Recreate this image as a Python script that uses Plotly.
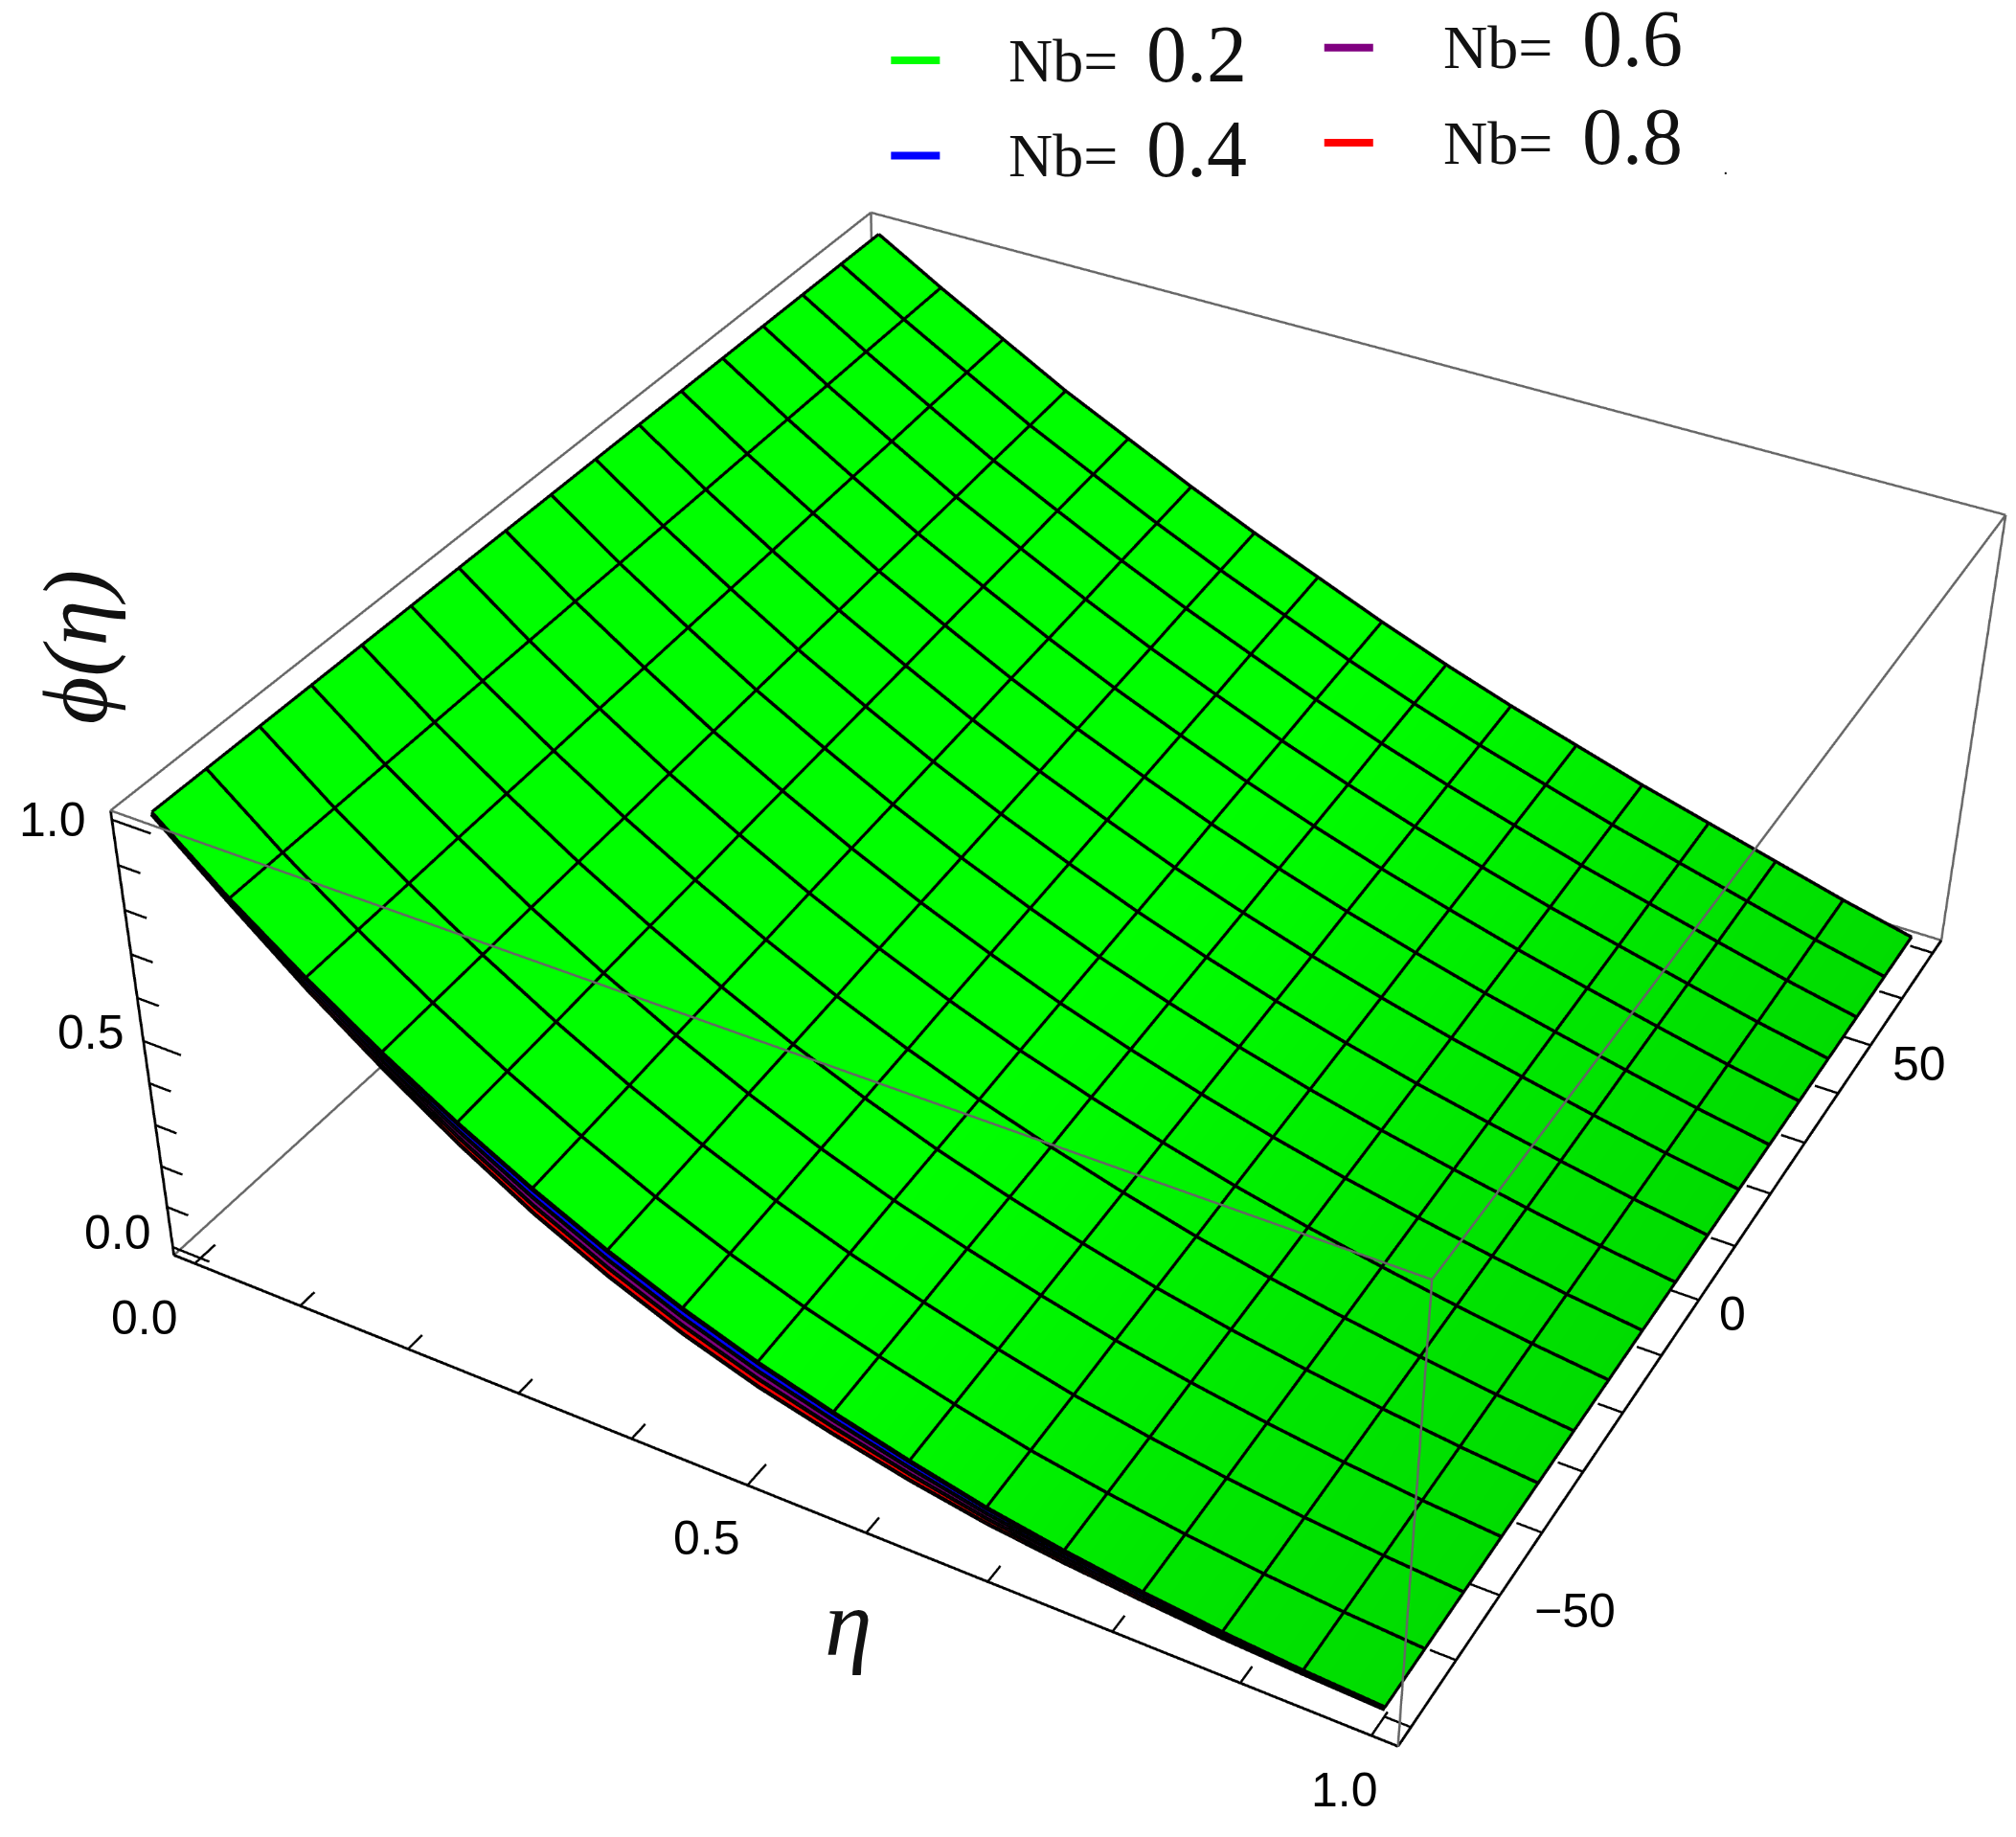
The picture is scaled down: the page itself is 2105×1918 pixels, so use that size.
import numpy as np
import plotly.graph_objects as go

eta = [0,.0625,.125,.1875,.25,.3125,.375,.4375,.5,.5625,.625,.6875,.75,.8125,.875,.9375,1]
y_vals = [-70,-61.25,-52.5,-43.75,-35,-26.25,-17.5,-8.75,0,8.75,17.5,26.25,35,43.75,52.5,61.25,70]
phi_02 = [1.00,.865,.745,.635,.535,.445,.365,.295,.235,.185,.14,.10,.07,.045,.025,.01,0]
phi_04 = [.999,.862,.737,.623,.519,.426,.345,.275,.216,.168,.125,.088,.061,.039,.021,.008,-.001]
phi_06 = [.998,.859,.729,.611,.503,.407,.325,.255,.197,.151,.11,.076,.052,.033,.017,.006,-.002]
phi_08 = [.997,.856,.721,.599,.487,.388,.305,.235,.178,.134,.095,.064,.043,.027,.013,.004,-.003]
# rise of the surface across y, read from its far edge (y = 70) against its near edge (y = -70)
phi_far_edge = [1.00,.91,.825,.74,.665,.59,.52,.455,.39,.33,.275,.225,.175,.13,.085,.04,0]
y_weight = [0,.06,.12,.19,.25,.31,.38,.44,.5,.56,.62,.69,.75,.81,.88,.94,1]
green_shade = [1,1,1,1,1,1,1,1,1,.9,.75,.6,.45,.3,.2,.1,0]
nb_labels = ["0.2","0.4","0.6","0.8"]
phi_ticks = [0,.1,.2,.3,.4,.5,.6,.7,.8,.9,1]
eta_ticks = [0,.1,.2,.3,.4,.5,.6,.7,.8,.9,1]
y_ticks = [-70,-60,-50,-40,-30,-20,-10,0,10,20,30,40,50,60,70]

S = 2105/1568
W, H = 2105, 1918
M = 1000
LW, LH = W+2*M, H+2*M

etaR=[-.02,1.02]; yR=[-72.8,72.8]; phiR=[-.02,1.02]
G=1.04
eR=[.5-.52*G,.5+.52*G]; yRR=[-72.8*G,72.8*G]; pR=[.5-.52*G,.5+.52*G]
fig=go.Figure()

def path(X,Y,Z,color,width):
    fig.add_trace(go.Scatter3d(x=list(X),y=list(Y),z=list(Z),mode="lines",line=dict(color=color,width=width),hoverinfo="skip",showlegend=False))
def seg(a,b,color,width):
    path([a[0],b[0]],[a[1],b[1]],[a[2],b[2]],color,width)

rise=np.array(phi_far_edge)-np.array(phi_02)
def grid(phi):
    return np.array([np.array(phi)+w*rise for w in y_weight])

for phi,col,shade in [(phi_08,"#FF0000",None),(phi_06,"#800080",None),(phi_04,"#0000FF",None),(phi_02,"#00FF00",green_shade)]:
    z=grid(phi)
    if shade is None:
        sc=[[0,col],[1,col]]; surf=np.zeros_like(z)
    else:
        sc=[[0,"#00DC00"],[1,"#00FF00"]]; surf=np.tile(shade,(len(y_vals),1))
    fig.add_trace(go.Surface(x=eta,y=y_vals,z=z,surfacecolor=surf,colorscale=sc,cmin=0,cmax=1,showscale=False,hoverinfo="skip",
        lighting=dict(ambient=1,diffuse=0,specular=0,fresnel=0,roughness=1)))
    path(eta,[y_vals[0]]*len(eta),z[0],"black",6)
    path(eta,[y_vals[-1]]*len(eta),z[-1],"black",6)

lift=.003
Zg=grid(phi_02)+lift
for j,yv in enumerate(y_vals):
    path(eta,[yv]*len(eta),Zg[j],"black",5)
for i,e in enumerate(eta):
    path([e]*len(y_vals),y_vals,Zg[:,i],"black",4.5)

e0,e1=etaR; y0,y1=yR; z0,z1=phiR
grey=[((e0,y0,z1),(e1,y0,z1)),((e1,y0,z1),(e1,y0,z0)),((e1,y0,z1),(e1,y1,z1)),((e0,y0,z1),(e0,y1,z1)),((e0,y1,z1),(e1,y1,z1)),
      ((e1,y1,z1),(e1,y1,z0)),((e0,y0,z0),(e0,y1,z0)),((e0,y1,z1),(e0,y1,z0)),((e0,y1,z0),(e1,y1,z0))]
for a,b in grey:
    seg(a,b,"#666666",3.5)
blk=[((e0,y0,z1),(e0,y0,z0)),((e0,y0,z0),(e1,y0,z0)),((e1,y0,z0),(e1,y1,z0))]
for a,b in blk:
    seg(a,b,"black",4)
for t in phi_ticks:
    L=.035 if t in (0,.5,1) else .02
    seg((e0,y0,t),(e0+L,y0,t),"black",3.5)
for t in eta_ticks:
    L=3.5 if t in (0,.5,1) else 2.5
    seg((t,y0,z0),(t,y0+L,z0),"black",3.5)
for t in y_ticks:
    L=.035 if t in (-50,0,50) else .02
    seg((e1,t,z0),(e1-L,t,z0),"black",3.5)

ann3=[]
TF=dict(family="Liberation Sans",size=50,color="black")
for t,dx,dy in [(0,-57,15),(.5,-55,9),(1,-62,0)]:
    ann3.append(dict(x=e0,y=y0,z=t,text=f"{t:.1f}",showarrow=False,xshift=dx,yshift=dy,font=TF))
for t,dx,dy in [(0,-52,-57),(.5,-42,-55),(1,-28,-57)]:
    ann3.append(dict(x=t,y=y0,z=z0,text=f"{t:.1f}",showarrow=False,xshift=dx,yshift=dy,font=TF))
for t,s,dx,dy in [(-50,"\u221250",79,-16),(0,"0",35,-15),(50,"50",51,-20)]:
    ann3.append(dict(x=e1,y=t,z=z0,text=s,showarrow=False,xshift=dx,yshift=dy,font=TF))

def P(x,y): return (x*S+M)/LW, 1-(y*S+M)/LH
anns=[]
swatch=[(693,47,0),(693,121,1),(1030,37,2),(1030,111,3)]
textpos=[(827,47,931,42),(827,121,931,116),(1165,37,1270,30),(1165,111,1270,106)]
shapes=[]
order=["#00FF00","#0000FF","#800080","#FF0000"]
for (sx,sy,i),(a,b,c_,d) in zip(swatch,textpos):
    x0,yy=P(sx,sy); x1,_=P(sx+38,sy)
    shapes.append(dict(type="line",xref="paper",yref="paper",x0=x0,x1=x1,y0=yy,y1=yy,line=dict(color=order[i],width=8)))
    x,y=P(a,b)
    anns.append(dict(xref="paper",yref="paper",x=x,y=y,xanchor="center",yanchor="middle",text="Nb=",showarrow=False,font=dict(family="Liberation Serif",size=64,color="#111")))
    x,y=P(c_,d)
    anns.append(dict(xref="paper",yref="paper",x=x,y=y,xanchor="center",yanchor="middle",text=nb_labels[i],showarrow=False,font=dict(family="Liberation Serif",size=84,color="#111")))
x,y=P(660,1262)
anns.append(dict(xref="paper",yref="paper",x=x,y=y,xanchor="center",yanchor="middle",text="<i>\u03b7</i>",showarrow=False,font=dict(family="Liberation Serif",size=100,color="#111")))
x,y=P(58,503)
anns.append(dict(xref="paper",yref="paper",x=x,y=y,xanchor="center",yanchor="middle",text="<i>\u03d5(\u03b7)</i>",textangle=-90,showarrow=False,font=dict(family="Liberation Serif",size=96,color="#111")))
x,y=P(1342,130)
anns.append(dict(xref="paper",yref="paper",x=x,y=y,xanchor="center",yanchor="middle",text=".",showarrow=False,font=dict(family="Liberation Sans",size=20,color="black")))

ax=dict(visible=False,showspikes=False)
fig.update_layout(width=LW,height=LH,margin=dict(l=0,r=0,t=0,b=0),paper_bgcolor="white",showlegend=False,annotations=anns,shapes=shapes,
    scene=dict(domain=dict(x=[0,1],y=[0,1]),bgcolor="rgba(0,0,0,0)",
        xaxis=dict(range=eR,**ax),yaxis=dict(range=yRR,**ax),zaxis=dict(range=pR,**ax),
        aspectmode="manual",aspectratio=dict(x=.9841*G,y=G,z=.3947*G),
        camera=dict(eye=dict(x=1.2758,y=-2.3923,z=1.9512),center=dict(x=-.05,y=-.0498,z=-.0208),up=dict(x=.0079,y=.0051,z=1),projection=dict(type="perspective")),
        annotations=ann3))
fig.write_html("out.html",config=dict(displayModeBar=False),post_script=f"document.documentElement.style.overflow='hidden';document.body.style.overflow='hidden';document.body.style.margin='0';var g=document.querySelector('.plotly-graph-div');g.style.marginLeft='-{M}px';g.style.marginTop='-{M}px';")
